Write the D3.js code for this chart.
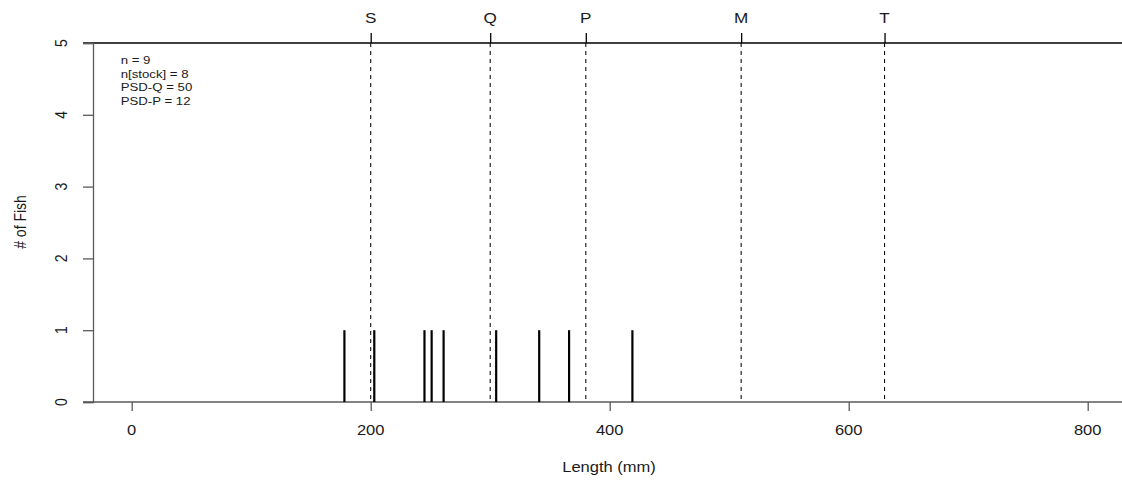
<!DOCTYPE html>
<html>
<head>
<meta charset="utf-8">
<script src="https://cdn.jsdelivr.net/npm/d3@7"></script>
<style>
  html, body { margin: 0; padding: 0; background: #fff; }
  svg { display: block; }
</style>
</head>
<body>
<svg id="chart" width="1122" height="480"></svg>
<script>
// Individual fish lengths (mm) and their counts
const lengths = [178, 203, 245, 251, 261, 305, 341, 366, 419];
const counts  = [1, 1, 1, 1, 1, 1, 1, 1, 1];

// Gabelhouse length categories
const psdBreaks = [200, 300, 380, 510, 630];
const psdLabels = ["S", "Q", "P", "M", "T"];

// Axis ticks
const xTicks = [0, 200, 400, 600, 800];
const yTicks = [0, 1, 2, 3, 4, 5];

// Summary statistics
const summaryLines = ["n = 9", "n[stock] = 8", "PSD-Q = 50", "PSD-P = 12"];

const W = 1122, H = 480;
const svg = d3.select("#chart");
const FONT = "'Liberation Sans', Arial, Helvetica, sans-serif";
const STRETCH = 1.18;
const axisGrey = "#5a5a5a";

const x = d3.scaleLinear().domain([0, 800]).range([131.7, 1087.7]);
const y = d3.scaleLinear().domain([0, 5]).range([402, 43]);

const frameLeft = 83, yAxisX = 93;

// text helper (slightly wide lettering)
function label(g, px, py, str, size, anchor, rot) {
  return g.append("text")
    .attr("transform", `translate(${px},${py}) scale(${STRETCH},1)` + (rot ? ` rotate(${rot})` : ""))
    .attr("text-anchor", anchor)
    .attr("dy", "0.35em")
    .attr("font-family", FONT)
    .attr("font-size", size)
    .attr("fill", "#1a1a1a")
    .text(str);
}

// bottom axis line across the plot
svg.append("line")
  .attr("x1", frameLeft).attr("x2", W)
  .attr("y1", y(0)).attr("y2", y(0))
  .attr("stroke", axisGrey).attr("stroke-width", 1.3);

// top reference line
svg.append("line")
  .attr("x1", frameLeft).attr("x2", W)
  .attr("y1", y(5)).attr("y2", y(5))
  .attr("stroke", "#000").attr("stroke-width", 1.3);

// y axis
const yAxis = svg.append("g").attr("transform", `translate(${yAxisX},0)`)
  .call(d3.axisLeft(y).tickValues(yTicks).tickSize(10).tickFormat(""));
yAxis.select(".domain").attr("stroke", axisGrey).attr("stroke-width", 1.3);
yAxis.selectAll(".tick line").attr("stroke", axisGrey).attr("stroke-width", 1.3);
yAxis.selectAll(".tick text").remove();
yTicks.forEach(v => label(svg, 61, y(v), String(v), 14, "middle", -90));

// x axis ticks
const xAxis = svg.append("g").attr("transform", `translate(0,${y(0)})`)
  .call(d3.axisBottom(x).tickValues(xTicks).tickSize(9).tickFormat(""));
xAxis.select(".domain").remove();
xAxis.selectAll(".tick line").attr("stroke", axisGrey).attr("stroke-width", 1.3);
xTicks.forEach(v => label(svg, x(v), 430, String(v), 14, "middle"));

// category cut-offs: top ticks, letters, dashed lines
const catAxis = svg.append("g").attr("transform", `translate(0,${y(5)})`)
  .call(d3.axisTop(x).tickValues(psdBreaks).tickSize(10).tickFormat(""));
catAxis.select(".domain").remove();
catAxis.selectAll(".tick line").attr("stroke", "#000").attr("stroke-width", 1.3);
psdBreaks.forEach((b, i) => label(svg, x(b), 17.5, psdLabels[i], 14.5, "middle"));

svg.append("g").selectAll("line").data(psdBreaks).join("line")
  .attr("x1", d => x(d)).attr("x2", d => x(d))
  .attr("y1", y(5)).attr("y2", y(0))
  .attr("stroke", "#111").attr("stroke-width", 1.1)
  .attr("stroke-dasharray", "4,4");

// histogram spikes
svg.append("g").selectAll("line").data(lengths).join("line")
  .attr("x1", d => x(d)).attr("x2", d => x(d))
  .attr("y1", y(0)).attr("y2", (d, i) => y(counts[i]))
  .attr("stroke", "#000").attr("stroke-width", 2.2);

// axis titles
label(svg, 609, 467.5, "Length (mm)", 14, "middle");
label(svg, 20, 222, "# of Fish", 14, "middle", -90);

// summary block
summaryLines.forEach((s, i) => label(svg, 120.7, 60 + i * 13.6, s, 11.2, "start"));
</script>
</body>
</html>
